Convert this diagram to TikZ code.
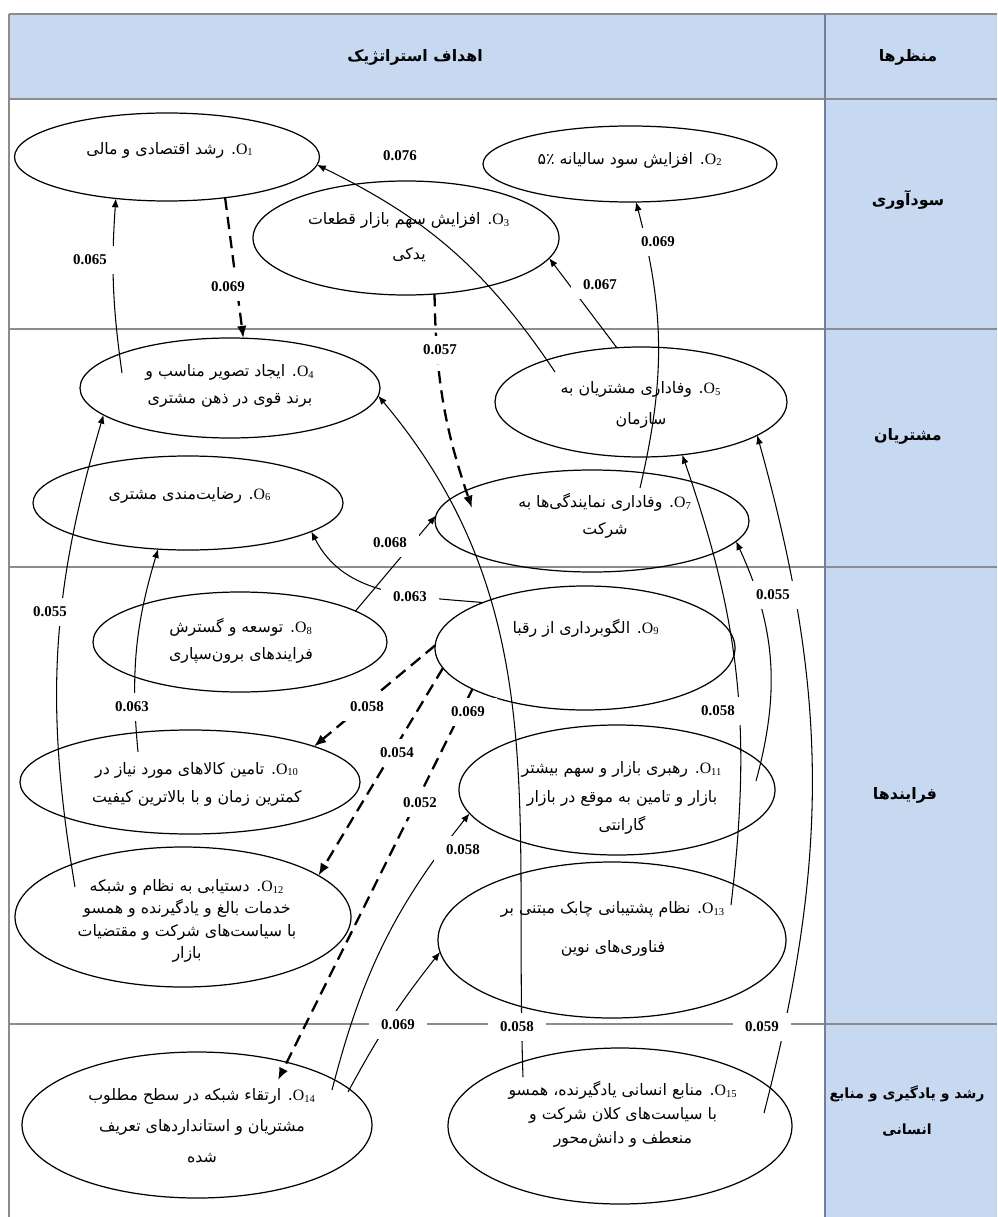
\documentclass[tikz,border=0pt]{standalone}
\usepackage{fontspec}
\setmainfont{Liberation Serif}
\newfontfamily\persianfont[Script=Arabic]{DejaVu Sans}
\usetikzlibrary{shapes.geometric,arrows.meta}
\TeXXeTstate=1
\newcommand\fa[1]{\beginR #1\endR}
\newcommand\obj[1]{\beginL{\rmfamily O\textsubscript{#1}}\endL}
\definecolor{headblue}{RGB}{198,217,240}
\definecolor{divblue}{RGB}{110,128,158}

\begin{document}
\begin{tikzpicture}[x=0.2mm, y=-0.2mm,
  goal/.style 2 args={ellipse, draw, line width=0.7pt, inner sep=0pt, outer sep=0pt,
    minimum width=#1*0.2mm, minimum height=#2*0.2mm},
  goaltext/.style={align=center, inner sep=0pt, font=\persianfont\fontsize{9}{#1}\selectfont},
  goaltext/.default=15,
  headtext/.style={align=center, inner sep=0pt, font=\persianfont\bfseries\fontsize{#1}{21}\selectfont},
  headtext/.default=9,
  weight/.style={fill=white, inner xsep=7pt, inner ysep=5pt, font=\bfseries\fontsize{8.5}{10}\selectfont},
  solidlink/.style={-{Latex[length=5pt,width=4pt]}, line width=0.6pt},
  dashlink/.style={-{Latex[length=7pt,width=5.5pt]}, line width=1.3pt, dash pattern=on 7pt off 4pt},
  gridline/.style={draw=black!45, line width=0.8pt}]
\useasboundingbox (0,0) rectangle (997,1217);
%table
\fill[headblue] (9,14) rectangle (997,99);
\fill[headblue] (825,99) rectangle (997,1217);
\foreach \y in {14,99,329,567,1024}
  \draw[gridline] (9,\y) -- (997,\y);
\draw[gridline] (9,14) -- (9,1217);
\draw[draw=divblue, line width=0.9pt] (825,14) -- (825,1217);
%headers
\node[headtext] (goalshead) at (415,57) {\fa{اهداف استراتژیک}};
\node[headtext] (viewhead) at (908,57) {\fa{منظرها}};
\node[headtext] (rowprofit) at (908,200) {\fa{سودآوری}};
\node[headtext] (rowcustomer) at (908,436) {\fa{مشتریان}};
\node[headtext] (rowprocess) at (905,795) {\fa{فرایندها}};
\node[headtext=8] (rowgrowth) at (907,1111) {\fa{رشد و یادگیری و منابع}\\\fa{انسانی}};

%goals
\node[goal={305}{88}] (o1) at (167,157) {};
\node[goaltext] (t1) at (170,150) {\fa{\obj{1}. رشد اقتصادی و مالی}};
\node[goal={294}{76}] (o2) at (630,164) {};
\node[goaltext] (t2) at (630,160) {\fa{\obj{2}. افزایش سود سالیانه ۵٪}};
\node[goal={306}{114}] (o3) at (406,238) {};
\node[goaltext=20] (t3) at (409,237) {\fa{\obj{3}. افزایش سهم بازار قطعات}\\\fa{یدکی}};
\node[goal={300}{100}] (o4) at (230,388) {};
\node[goaltext] (t4) at (230,386) {\fa{\obj{4}. ایجاد تصویر مناسب و}\\\fa{برند قوی در ذهن مشتری}};
\node[goal={292}{110}] (o5) at (641,402) {};
\node[goaltext=18] (t5) at (641,405) {\fa{\obj{5}. وفاداری مشتریان به}\\\fa{سازمان}};
\node[goal={310}{94}] (o6) at (188,503) {};
\node[goaltext] (t6) at (190,495) {\fa{\obj{6}. رضایت‌مندی مشتری}};
\node[goal={314}{102}] (o7) at (592,521) {};
\node[goaltext] (t7) at (605,516) {\fa{\obj{7}. وفاداری نمایندگی‌ها به}\\\fa{شرکت}};

\node[goal={294}{100}] (o8) at (240,642) {};
\node[goaltext] (t8) at (241,641) {\fa{\obj{8}. توسعه و گسترش}\\\fa{فرایندهای برون‌سپاری}};
\node[goal={300}{124}] (o9) at (585,648) {};
\node[goaltext] (t9) at (586,628) {\fa{\obj{9}. الگوبرداری از رقبا}};
\node[goal={340}{104}] (o10) at (190,782) {};
\node[goaltext=16] (t10) at (197,784) {\fa{\obj{10}. تامین کالاهای مورد نیاز در}\\\fa{کمترین زمان و با بالاترین کیفیت}};
\node[goal={316}{130}] (o11) at (617,790) {};
\node[goaltext=16] (t11) at (622,798) {\fa{\obj{11}. رهبری بازار و سهم بیشتر}\\\fa{بازار و تامین به موقع در بازار}\\\fa{گارانتی}};
\node[goal={336}{140}] (o12) at (183,917) {};
\node[goaltext=12.7] (t12) at (187,921) {\fa{\obj{12}. دستیابی به نظام و شبکه}\\\fa{خدمات بالغ و یادگیرنده و همسو}\\\fa{با سیاست‌های شرکت و مقتضیات}\\\fa{بازار}};
\node[goal={348}{156}] (o13) at (612,940) {};
\node[goaltext=22] (t13) at (613,929) {\fa{\obj{13}. نظام پشتیبانی چابک مبتنی بر}\\\fa{فناوری‌های نوین}};
\node[goal={350}{146}] (o14) at (197,1125) {};
\node[goaltext=17.6] (t14) at (202,1126) {\fa{\obj{14}. ارتقاء شبکه در سطح مطلوب}\\\fa{مشتریان و استانداردهای تعریف}\\\fa{شده}};
\node[goal={344}{156}] (o15) at (620,1126) {};
\node[goaltext=13.6] (t15) at (623,1114) {\fa{\obj{15}. منابع انسانی یادگیرنده، همسو}\\\fa{با سیاست‌های کلان شرکت و}\\\fa{منعطف و دانش‌محور}};

%links
\draw[solidlink] ([shift={(-108,-15)}]o4.center) to[bend left=6] (o1.-141);
\draw[dashlink] (o1.-35) -- (o4.75);
\draw[solidlink] ([shift={(-86,-30)}]o5.center) to[bend right=15] (o1.-3);
\draw[solidlink] (o5.114) -- (o3.-8);
\draw[solidlink] ([shift={(48,-33)}]o7.center) to[bend right=14] (o2.-81);
\draw[dashlink] (o3.-63) to[bend right=9] ([shift={(-120,-13)}]o7.center);
\draw[solidlink] (o8.15) -- (o7.178);
\draw[solidlink] (o9.156) to[out=175,in=-63] (o6.-13);
\draw[solidlink] ([shift={(-52,-30)}]o10.center) to[bend left=11] (o6.-123);
\draw[solidlink] ([shift={(-108,-30)}]o12.center) to[bend left=13] (o4.-168);
\draw[dashlink] (o9.179) -- (o10.16);
\draw[dashlink] (o9.-172) -- (o12.17);
\draw[dashlink] (o9.-160) -- ([shift={(81,-45)}]o14.center);
\draw[solidlink] ([shift={(119,-35)}]o13.center) to[bend right=13] (o5.-52);
\draw[solidlink] ([shift={(139,-9)}]o11.center) to[bend right=20] (o7.-8);
\draw[solidlink] ([shift={(144,-13)}]o15.center) to[bend right=15] (o5.-16);
\draw[solidlink] ([shift={(-97,-49)}]o15.center) to[out=92,in=-50] (o4.-3);
\draw[solidlink] ([shift={(135,-35)}]o14.center) to[bend left=12] (o11.-171);
\draw[solidlink] ([shift={(151,-33)}]o14.center) to[bend left=5] (o13.-176);

%weights
\node[weight] (w1) at (90,260) {0.065};
\node[weight] (w2) at (228,287) {0.069};
\node[weight] (w3) at (400,156) {0.076};
\node[weight] (w4) at (600,285) {0.067};
\node[weight] (w5) at (658,242) {0.069};
\node[weight] (w6) at (440,350) {0.057};
\node[weight] (w7) at (390,543) {0.068};
\node[weight] (w8) at (410,597) {0.063};
\node[weight] (w9) at (132,707) {0.063};
\node[weight] (w10) at (50,612) {0.055};
\node[weight] (w11) at (367,707) {0.058};
\node[weight] (w12) at (397,753) {0.054};
\node[weight] (w13) at (468,712) {0.069};
\node[weight] (w14) at (420,803) {0.052};
\node[weight] (w15) at (718,711) {0.058};
\node[weight] (w16) at (773,595) {0.055};
\node[weight] (w17) at (762,1027) {0.059};
\node[weight] (w18) at (517,1027) {0.058};
\node[weight] (w19) at (463,850) {0.058};
\node[weight] (w20) at (398,1025) {0.069};
\end{tikzpicture}
\end{document}
